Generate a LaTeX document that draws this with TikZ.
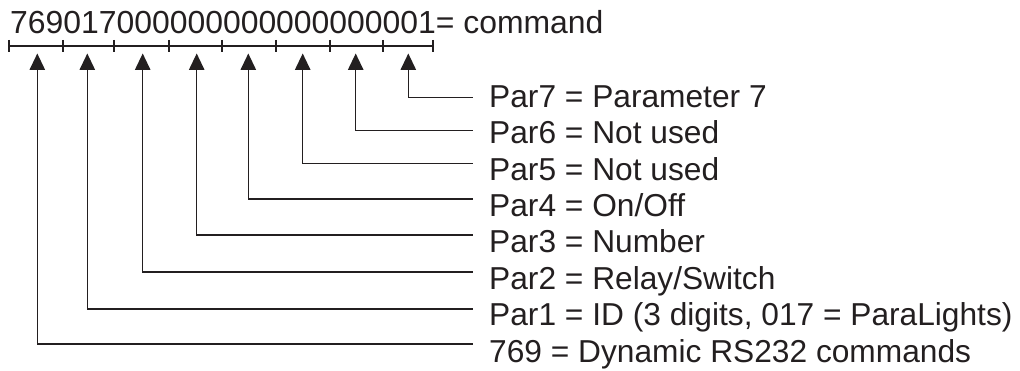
\documentclass[tikz,border=0pt]{standalone}
\usepackage{fontspec}
\setmainfont{Liberation Sans}
\usetikzlibrary{arrows.meta}
\definecolor{ink}{RGB}{35,31,32}
\begin{document}
\begin{tikzpicture}[x=1pt,y=-1pt,
  lbl/.style={anchor=base west,inner sep=0pt,text=ink,font=\fontsize{31.7}{33}\selectfont},
  toptext/.style={anchor=base west,inner sep=0pt,text=ink,font=\fontsize{31.9}{33}\selectfont},
  conn/.style={draw=ink,line width=1.2pt,-{Triangle[length=16.5pt,width=15.5pt]}},
  bar/.style={draw=ink,line width=2pt}]
\useasboundingbox (0,0) rectangle (1020,371);
% top command text
\node[toptext] (cmd) at (10,33.3) {769017000000000000000001= command};
% scale bar
\draw[bar] (9.3,46.5) -- (433.3,46.5);
\foreach \x in {9.3,62.7,114.3,169.3,222.3,276,330,383.3,433.3}
  \draw[bar] (\x,40) -- (\x,52.5);
% arrow tips
\foreach \n/\x in {7/408.3,6/355.7,5/302.7,4/248.3,3/196.7,2/142.7,1/87.3,0/37.3}
  \coordinate (t\n) at (\x,53.5);
% labels
\node[lbl] (l7) at (489,107.3) {Par7 = Parameter 7};
\node[lbl] (l6) at (489,143.7) {Par6 = Not used};
\node[lbl] (l5) at (489,180.1) {Par5 = Not used};
\node[lbl] (l4) at (489,216.5) {Par4 = On/Off};
\node[lbl] (l3) at (489,252.9) {Par3 = Number};
\node[lbl] (l2) at (489,289.3) {Par2 = Relay/Switch};
\node[lbl] (l1) at (489,325.7) {Par1 = ID (3 digits, 017 = ParaLights)};
\node[lbl] (l0) at (489,362.1) {769 = Dynamic RS232 commands};
% line ends
\foreach \n/\y in {7/97.3,6/130.7,5/163.3,4/199,3/235,2/272,1/309,0/344}
  \coordinate (e\n) at (472.5,\y);
\foreach \n in {0,...,7}
  \draw[conn] (e\n) -| (t\n);
\end{tikzpicture}
\end{document}
